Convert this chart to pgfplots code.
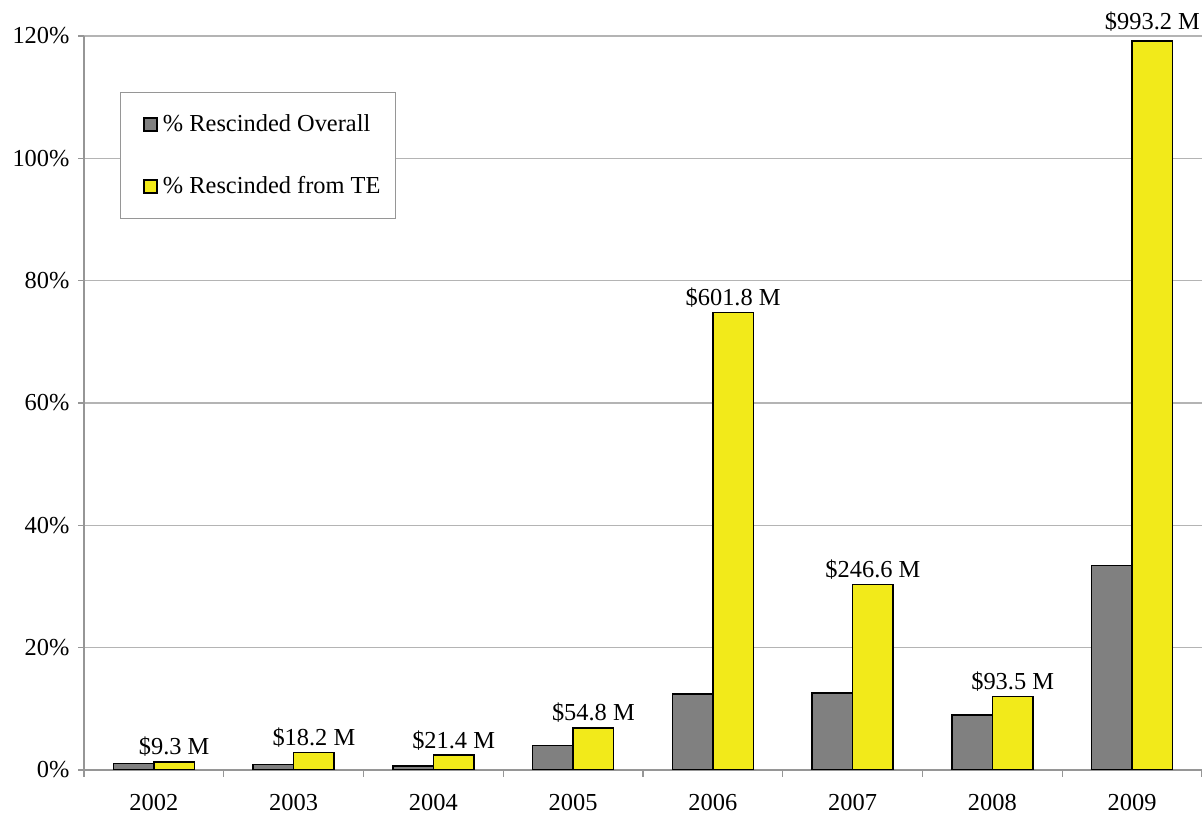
\documentclass[border=0pt]{standalone}
\usepackage{pgfplots}
\pgfplotsset{compat=1.18}
\usepackage{pgfplotstable}
\usepackage{fontspec}
\setmainfont{Liberation Serif}
\definecolor{barGray}{RGB}{128,128,128}
\definecolor{barYellow}{RGB}{242,234,26}
\definecolor{gridGray}{RGB}{180,180,180}
\definecolor{frameGray}{RGB}{150,150,150}

\pgfplotstableread{
x overall
0 1.08
1 0.90
2 0.65
3 4.00
4 12.40
5 12.55
6 9.00
7 33.40
}\overalltable

\pgfplotstableread{
x te label
0 1.35 {\$9.3 M}
1 2.87 {\$18.2 M}
2 2.45 {\$21.4 M}
3 6.90 {\$54.8 M}
4 74.8 {\$601.8 M}
5 30.3 {\$246.6 M}
6 12.0 {\$93.5 M}
7 119.2 {\raisebox{3pt}{\$993.2 M}}
}\tetable

\begin{document}
\fontsize{12.2}{14.6}\selectfont
\begin{tikzpicture}
\begin{axis}[
  scale only axis,
  width=559pt, height=367pt,
  xmin=-0.5, xmax=7.5, ymin=0, ymax=120,
  axis x line*=bottom, axis y line*=left,
  axis line style={frameGray, line width=0.7pt},
  ybar, bar width=0.29,
  xtick={0,...,7},
  xticklabels={2002,2003,2004,2005,2006,2007,2008,2009},
  major x tick style={draw=none},
  minor xtick={-0.5,0.5,...,7.5},
  tick align=outside,
  major tick length=3pt,
  minor tick length=3.5pt,
  tick style={frameGray, line width=0.7pt},
  ytick={0,20,...,120},
  yticklabels={0\%,20\%,40\%,60\%,80\%,100\%,120\%},
  ymajorgrids,
  grid style={gridGray, line width=0.7pt},
  xticklabel style={inner sep=0pt, yshift=-9pt},
  legend style={at={(0.032,0.924)}, anchor=north west, draw=frameGray, line width=0.6pt,
    inner xsep=5pt, inner ysep=8.5pt, row sep=15.5pt,
    legend cell align=left,
    nodes={inner sep=2.5pt}},
]
\addplot[fill=barGray, draw=black, line width=0.8pt, bar shift=-0.145,
  legend image code/.code={\path (0pt,0pt); \draw[fill=barGray, draw=black, line width=0.8pt] (6.5pt,-3.25pt) rectangle (13pt,3.25pt);}]
  table[x=x, y=overall] {\overalltable};
\addlegendentry{\% Rescinded Overall}
\addplot[fill=barYellow, draw=black, line width=0.8pt, bar shift=0.145,
  nodes near coords, point meta=explicit symbolic,
  nodes near coords style={text=black, anchor=south, yshift=-2pt},
  legend image code/.code={\path (0pt,0pt); \draw[fill=barYellow, draw=black, line width=0.8pt] (6.5pt,-3.25pt) rectangle (13pt,3.25pt);}]
  table[x=x, y=te, meta=label] {\tetable};
\addlegendentry{\% Rescinded from TE}
\end{axis}
\pgfresetboundingbox
\path ([shift={(-42pt,-23pt)}]current axis.south west) rectangle ([shift={(0pt,18pt)}]current axis.north east);
\end{tikzpicture}
\end{document}
